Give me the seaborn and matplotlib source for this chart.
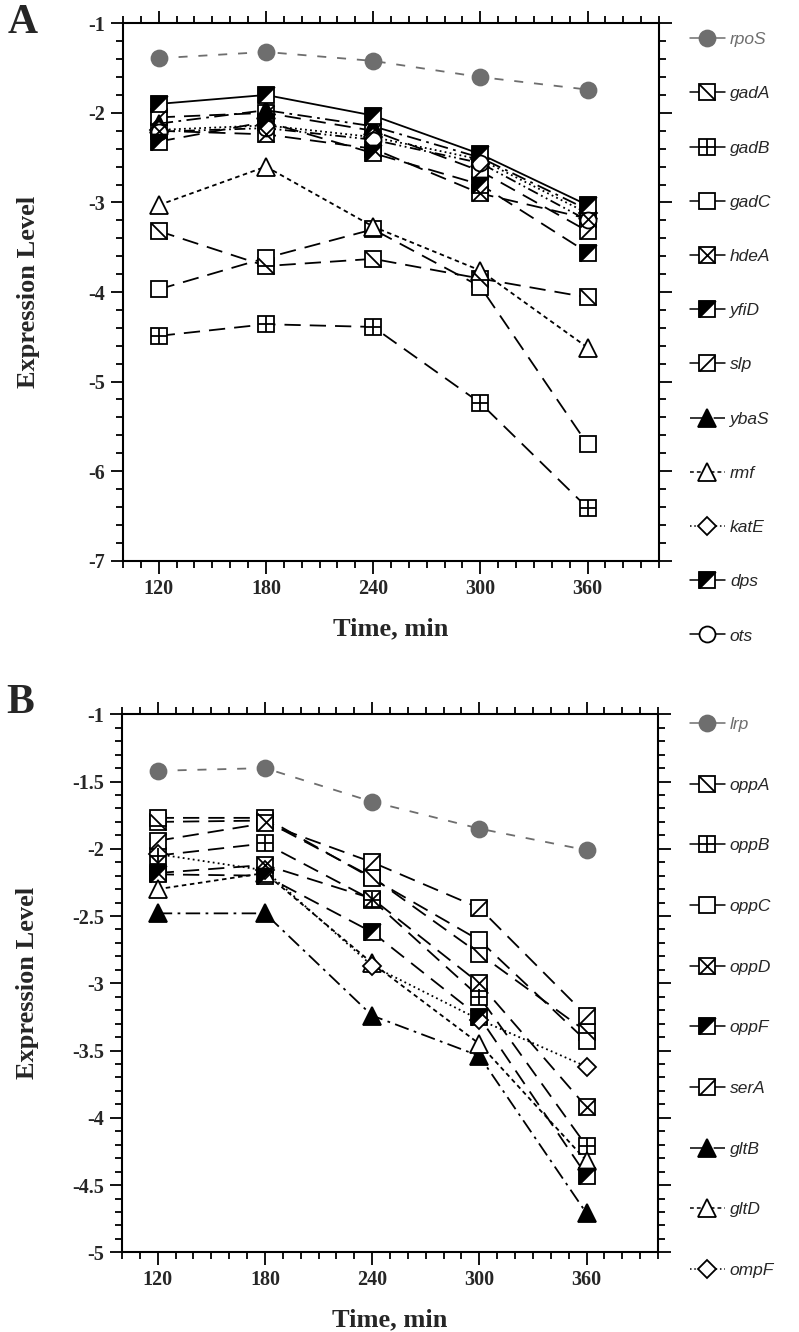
import numpy as np
import pandas as pd
import seaborn as sns
import matplotlib.pyplot as plt
from matplotlib.path import Path
from matplotlib.lines import Line2D
from matplotlib.font_manager import FontProperties
from matplotlib.legend_handler import HandlerTuple
from matplotlib.ticker import MultipleLocator, FixedLocator, FixedFormatter

# ---- data ----
times = [120, 180, 240, 300, 360]

# panel A
genes_a = ["rpoS", "gadA", "gadB", "gadC", "hdeA", "yfiD", "slp",
           "ybaS", "rmf", "katE", "dps", "ots"]
rpoS = [-1.39, -1.32, -1.42, -1.60, -1.74]
gadA = [-3.32, -3.71, -3.63, -3.85, -4.06]
gadB = [-4.49, -4.36, -4.39, -5.24, -6.41]
gadC = [-3.97, -3.62, -3.30, -3.94, -5.70]
hdeA = [-2.20, -2.24, -2.40, -2.90, -3.18]
yfiD = [-2.32, -2.10, -2.45, -2.80, -3.56]
slp = [-2.05, -2.00, -2.20, -2.65, -3.32]
ybaS = [-2.12, -1.97, -2.15, -2.50, -3.08]
rmf = [-3.03, -2.60, -3.27, -3.76, -4.62]
katE = [-2.19, -2.14, -2.27, -2.52, -3.12]
dps = [-1.90, -1.80, -2.03, -2.46, -3.03]
ots = [-2.21, -2.17, -2.30, -2.56, -3.20]
values_a = [rpoS, gadA, gadB, gadC, hdeA, yfiD, slp, ybaS, rmf, katE, dps, ots]

# panel B
genes_b = ["lrp", "oppA", "oppB", "oppC", "oppD", "oppF", "serA",
           "gltB", "gltD", "ompF"]
lrp = [-1.42, -1.40, -1.65, -1.85, -2.01]
oppA = [-1.80, -1.79, -2.21, -2.78, -3.36]
oppB = [-2.05, -1.96, -2.38, -3.10, -4.21]
oppC = [-1.77, -1.77, -2.22, -2.68, -3.43]
oppD = [-2.18, -2.12, -2.37, -3.00, -3.92]
oppF = [-2.19, -2.20, -2.62, -3.25, -4.43]
serA = [-1.94, -1.81, -2.10, -2.44, -3.24]
gltB = [-2.48, -2.48, -3.24, -3.54, -4.71]
gltD = [-2.30, -2.18, -2.85, -3.45, -4.32]
ompF = [-2.04, -2.16, -2.87, -3.27, -3.62]
values_b = [lrp, oppA, oppB, oppC, oppD, oppF, serA, gltB, gltD, ompF]

yticks_a = [-1, -2, -3, -4, -5, -6, -7]
ylabels_a = ["-1", "-2", "-3", "-4", "-5", "-6", "-7"]
yticks_b = [-1, -1.5, -2, -2.5, -3, -3.5, -4, -4.5, -5]
ylabels_b = ["-1", "-1.5", "-2", "-2.5", "-3", "-3.5", "-4", "-4.5", "-5"]

# ---- marker shapes ----
M, L = Path.MOVETO, Path.LINETO
inner = {
    "back": Path([(-1, 1), (1, -1)], [M, L]),
    "fwd": Path([(-1, -1), (1, 1)], [M, L]),
    "plus": Path([(0, -1), (0, 1), (-1, 0), (1, 0)], [M, L, M, L]),
    "cross": Path([(-1, -1), (1, 1), (-1, 1), (1, -1)], [M, L, M, L]),
    "half": Path([(-1, -1), (-1, 1), (1, 1), (-1, -1)], [M, L, L, L]),
}

GRAY = "#6e6e6e"
LONG = (0, (9, 5))
GRAYDASH = (0, (5, 6))
DASHDOT = (0, (8, 3, 1.5, 3))
SHORT = (0, (2.5, 2))
DOT = (0, (1, 1.8))
DASHDOTDOT = (0, (6, 2, 1, 2, 1, 2))

# gene -> (marker, inner, linestyle, fill)
style_a = {
    "rpoS": ("o", None, GRAYDASH, "gray"),
    "gadA": ("s", "back", LONG, "white"),
    "gadB": ("s", "plus", LONG, "white"),
    "gadC": ("s", None, LONG, "white"),
    "hdeA": ("s", "cross", LONG, "white"),
    "yfiD": ("s", "half", LONG, "white"),
    "slp": ("s", "fwd", LONG, "white"),
    "ybaS": ("^", None, DASHDOT, "black"),
    "rmf": ("^", None, SHORT, "white"),
    "katE": ("D", None, DOT, "white"),
    "dps": ("s", "half", "-", "white"),
    "ots": ("o", None, DASHDOTDOT, "white"),
}
style_b = {
    "lrp": ("o", None, GRAYDASH, "gray"),
    "oppA": ("s", "back", LONG, "white"),
    "oppB": ("s", "plus", LONG, "white"),
    "oppC": ("s", None, LONG, "white"),
    "oppD": ("s", "cross", LONG, "white"),
    "oppF": ("s", "half", LONG, "white"),
    "serA": ("s", "fwd", LONG, "white"),
    "gltB": ("^", None, DASHDOT, "black"),
    "gltD": ("^", None, SHORT, "white"),
    "ompF": ("D", None, DOT, "white"),
}

sns.set_style("ticks")
plt.rcParams["font.family"] = ["Liberation Serif", "DejaVu Serif"]
plt.rcParams["axes.unicode_minus"] = False

fig = plt.figure(figsize=(7.99, 13.32), dpi=100)
W, H = 799, 1332
ax_a = fig.add_axes([123 / W, 1 - 560.7 / H, 536 / W, 537.4 / H])
ax_b = fig.add_axes([122 / W, 1 - 1252.3 / H, 536 / W, 538 / H])

legend_font = FontProperties(family="Liberation Sans", style="italic", size=12.5)


def marker_size(mk):
    if mk == "o":
        return 11.5
    if mk == "^":
        return 12.5
    if mk == "D":
        return 9.5
    return 11.5


def draw_panel(ax, genes, values, styles):
    df = pd.DataFrame({"time": np.tile(times, len(genes)),
                       "gene": np.repeat(genes, len(times)),
                       "level": np.concatenate(values)})
    handles = []
    for g in genes:
        mk, inn, ls, fill = styles[g]
        sub = df[df["gene"] == g]
        col = GRAY if fill == "gray" else "black"
        fc = {"gray": GRAY, "black": "black", "white": "white"}[fill]
        ms = marker_size(mk)
        sns.lineplot(data=sub, x="time", y="level", ax=ax, color=col,
                     linestyle=ls, linewidth=1.3, marker=mk, markersize=ms,
                     markerfacecolor=fc, markeredgecolor=col,
                     markeredgewidth=1.3, legend=False, zorder=3)
        base = Line2D([], [], color=col, linestyle="-", linewidth=1.1,
                      marker=mk, markersize=ms, markerfacecolor=fc,
                      markeredgecolor=col, markeredgewidth=1.3)
        if ls in (DASHDOT, SHORT, DOT):
            base.set_linestyle(ls)
        if inn is not None:
            infc = "black" if inn == "half" else "none"
            ax.plot(sub["time"], sub["level"], linestyle="none",
                    marker=inner[inn], markersize=ms, markerfacecolor=infc,
                    markeredgecolor="black", markeredgewidth=1.3, zorder=4)
            over = Line2D([], [], linestyle="none", marker=inner[inn],
                          markersize=ms, markerfacecolor=infc,
                          markeredgecolor="black", markeredgewidth=1.3)
            handles.append((base, over))
        else:
            handles.append(base)
    return handles


def style_axes(ax, yticks, ylabels, ylim, yminor):
    ax.set_xlim(100, 400)
    ax.set_ylim(*ylim)
    ax.xaxis.set_major_locator(FixedLocator(times))
    ax.xaxis.set_major_formatter(FixedFormatter([str(t) for t in times]))
    ax.xaxis.set_minor_locator(MultipleLocator(10))
    ax.yaxis.set_major_locator(FixedLocator(yticks))
    ax.yaxis.set_major_formatter(FixedFormatter(ylabels))
    ax.yaxis.set_minor_locator(MultipleLocator(yminor))
    for s in ax.spines.values():
        s.set_visible(True)
        s.set_linewidth(1.5)
        s.set_color("black")
    ax.tick_params(which="both", direction="out", top=True, right=True,
                   color="black", width=1.3)
    ax.tick_params(which="major", length=9, labelsize=14.5, pad=4)
    ax.tick_params(which="minor", length=5)
    for lab in ax.get_xticklabels() + ax.get_yticklabels():
        lab.set_fontweight("bold")
    ax.set_xlabel("Time, min", fontsize=19, fontweight="bold")
    ax.set_ylabel("Expression Level", fontsize=19, fontweight="bold")
    ax.xaxis.set_label_coords(0.5, -0.105)
    ax.yaxis.set_label_coords(-0.155, 0.5)


handles_a = draw_panel(ax_a, genes_a, values_a, style_a)
handles_b = draw_panel(ax_b, genes_b, values_b, style_b)
style_axes(ax_a, yticks_a, ylabels_a, (-7, -1), 0.2)
style_axes(ax_b, yticks_b, ylabels_b, (-5, -1), 0.1)

for ax, hs, labels, top, sp in [(ax_a, handles_a, genes_a, 32, 2.25),
                                (ax_b, handles_b, genes_b, 717, 2.62)]:
    leg = ax.legend(hs, labels, loc="upper left",
                    bbox_to_anchor=(690 / W, 1 - top / H),
                    bbox_transform=fig.transFigure, frameon=False,
                    prop=legend_font, labelspacing=sp, handlelength=2.0,
                    handletextpad=0.3, borderpad=0, borderaxespad=0,
                    numpoints=1, handler_map={tuple: HandlerTuple(ndivide=1)})
    leg.get_texts()[0].set_color(GRAY)

fig.text(8 / W, 1 - 4 / H, "A", fontsize=30, fontweight="bold", va="top")
fig.text(6 / W, 1 - 684 / H, "B", fontsize=30, fontweight="bold", va="top")

fig.savefig("out.png", dpi=100)
